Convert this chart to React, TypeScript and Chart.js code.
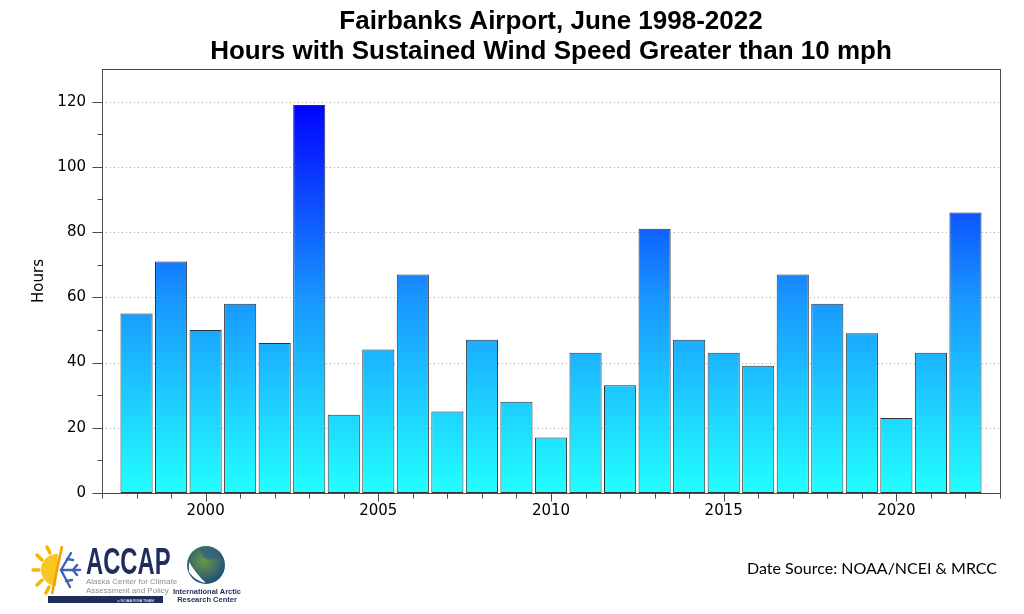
import React, { useEffect, useRef } from "react";
import { Chart, registerables } from "chart.js";

Chart.register(...registerables);

const years = [1998, 1999, 2000, 2001, 2002, 2003, 2004, 2005, 2006, 2007, 2008, 2009, 2010, 2011, 2012, 2013, 2014, 2015, 2016, 2017, 2018, 2019, 2020, 2021, 2022];
const hours = [55, 71, 50, 58, 46, 119, 24, 44, 67, 25, 47, 28, 17, 43, 33, 81, 47, 43, 39, 67, 58, 49, 23, 43, 86];
const xTickValues = [2000, 2005, 2010, 2015, 2020];
const yTickValues = [0, 20, 40, 60, 80, 100, 120];
const titleLines = ["Fairbanks Airport, June 1998-2022", "Hours with Sustained Wind Speed Greater than 10 mph"];
const yAxisTitle = "Hours";
const sourceText = "Date Source: NOAA/NCEI & MRCC";

const X_MIN = 1997;
const X_MAX = 2023;
const Y_MIN = 0;
const Y_MAX = 130;

const decorPlugin = {
  id: "decor",
  beforeDatasetsDraw(chart: any) {
    const { ctx, chartArea, scales } = chart;
    const { left, right } = chartArea;
    const y = scales.y;
    ctx.save();
    ctx.strokeStyle = "#a8a8a8";
    ctx.lineWidth = 1;
    ctx.setLineDash([1, 3]);
    for (const v of yTickValues) {
      if (v <= Y_MIN) continue;
      const py = Math.round(y.getPixelForValue(v)) + 0.5;
      ctx.beginPath();
      ctx.moveTo(left, py);
      ctx.lineTo(right, py);
      ctx.stroke();
    }
    ctx.restore();
  },
  afterDatasetsDraw(chart: any) {
    const { ctx, chartArea, scales } = chart;
    const { left, right, top, bottom } = chartArea;
    const x = scales.x;
    const y = scales.y;
    ctx.save();
    ctx.strokeStyle = "#4a4a4a";
    ctx.lineWidth = 1;
    ctx.setLineDash([]);
    const L = Math.round(left) + 0.5;
    const R = Math.round(right) + 0.5;
    const T = Math.round(top) + 0.5;
    const B = Math.round(bottom) + 0.5;
    ctx.strokeRect(L, T, R - L, B - T);
    for (let v = X_MIN; v <= X_MAX; v++) {
      const px = Math.round(x.getPixelForValue(v)) + 0.5;
      const len = v % 5 === 0 ? 8 : 5;
      ctx.beginPath();
      ctx.moveTo(px, B);
      ctx.lineTo(px, B + len);
      ctx.stroke();
    }
    for (let v = Y_MIN; v <= Y_MAX - 10; v += 10) {
      const py = Math.round(y.getPixelForValue(v)) + 0.5;
      const len = v % 20 === 0 ? 10 : 5;
      ctx.beginPath();
      ctx.moveTo(L, py);
      ctx.lineTo(L - len, py);
      ctx.stroke();
    }
    ctx.restore();
  },
};

function barGradient(context: any) {
  const chart = context.chart;
  const { chartArea, scales } = chart;
  if (!chartArea || !scales.y) return "#1e90ff";
  const y0 = scales.y.getPixelForValue(0);
  const y1 = scales.y.getPixelForValue(120);
  const g = chart.ctx.createLinearGradient(0, y0, 0, y1);
  g.addColorStop(0, "rgb(34,255,255)");
  g.addColorStop(0.5, "rgb(24,150,255)");
  g.addColorStop(1, "rgb(0,0,255)");
  return g;
}

function Logos() {
  return (
    <div style={{ position: "absolute", left: 0, top: 540, width: 260, height: 74 }}>
      <svg width="260" height="74" style={{ position: "absolute", left: 0, top: 0 }}>
        <path d="M 58 14 A 16 16 0 0 0 56 46 Z" fill="#f9c623" />
        <g stroke="#f7b500" strokeWidth="3.5" strokeLinecap="round">
          <line x1="39" y1="30" x2="33" y2="30" />
          <line x1="42" y1="20" x2="37" y2="15" />
          <line x1="42" y1="40" x2="37" y2="45" />
          <line x1="50" y1="13" x2="47" y2="7" />
          <line x1="49" y1="47" x2="46" y2="53" />
        </g>
        <line x1="62" y1="6" x2="52" y2="54" stroke="#f2a100" strokeWidth="2.5" />
        <g stroke="#3c64b4" strokeWidth="2.4" fill="none" strokeLinecap="round">
          <line x1="61" y1="30" x2="80" y2="30" />
          <line x1="61" y1="30" x2="71" y2="13" />
          <line x1="61" y1="30" x2="70" y2="47" />
          <line x1="73" y1="30" x2="77" y2="25" />
          <line x1="73" y1="30" x2="77" y2="35" />
          <line x1="67" y1="19" x2="73" y2="20" />
          <line x1="66" y1="41" x2="72" y2="40" />
        </g>
        <rect x="48" y="56" width="115" height="7" fill="#1f2d5c" />
        <text x="154" y="61.5" fontSize="4" fill="#ffffff" textAnchor="end" fontFamily="Liberation Sans, Arial, sans-serif">a NOAA RISA TEAM</text>
        <defs>
          <radialGradient id="globeGrad" cx="45%" cy="40%" r="60%">
            <stop offset="0%" stopColor="#6a9a44" />
            <stop offset="100%" stopColor="#1f4f7a" />
          </radialGradient>
        </defs>
        <circle cx="206" cy="25" r="19" fill="url(#globeGrad)" />
        <path d="M 189 22 Q 197 35 206 43 Q 195 41 189 32 Z" fill="#ffffff" />
        <path d="M 200 10 Q 212 6 222 16 Q 214 22 204 18 Z" fill="#2a5d86" opacity="0.6" />
      </svg>
      <div style={{ position: "absolute", left: 86, top: 4, fontFamily: "Liberation Sans, Arial, sans-serif", fontWeight: 700, fontSize: 36, color: "#1f2d5c", lineHeight: "36px", transform: "scaleX(0.66)", transformOrigin: "left top", whiteSpace: "nowrap" }}>ACCAP</div>
      <div style={{ position: "absolute", left: 86, top: 37, fontFamily: "Liberation Sans, Arial, sans-serif", fontSize: 8, color: "#8a8f99", lineHeight: "9px", whiteSpace: "nowrap" }}>
        Alaska Center for Climate<br />Assessment and Policy
      </div>
      <div style={{ position: "absolute", left: 170, top: 48, fontFamily: "Liberation Sans, Arial, sans-serif", fontWeight: 700, fontSize: 7.5, color: "#1f2d5c", lineHeight: "8px", textAlign: "center", width: 74, whiteSpace: "nowrap" }}>
        International Arctic<br />Research Center
      </div>
    </div>
  );
}

export default function App() {
  const canvasRef = useRef<HTMLCanvasElement | null>(null);

  useEffect(() => {
    if (!canvasRef.current) return;
    const chart = new Chart(canvasRef.current, {
      type: "bar",
      data: {
        datasets: [
          {
            label: yAxisTitle,
            data: years.map((yr, i) => ({ x: yr, y: hours[i] })),
            backgroundColor: barGradient,
            borderColor: "#333333",
            borderWidth: 1,
            borderSkipped: false,
            barPercentage: 0.93,
            categoryPercentage: 1,
          } as any,
        ],
      },
      options: {
        animation: false,
        responsive: false,
        maintainAspectRatio: false,
        layout: { padding: { left: 0, right: 24, top: 0, bottom: 0 } },
        plugins: {
          legend: { display: false },
          tooltip: { enabled: false },
          title: {
            display: true,
            text: titleLines,
            fullSize: false,
            color: "#000000",
            font: { family: "'Liberation Sans', Arial, sans-serif", size: 26, weight: "bold", lineHeight: 30 / 26 },
            padding: { top: 7, bottom: 2 },
          },
        },
        scales: {
          x: {
            type: "linear",
            min: X_MIN,
            max: X_MAX,
            offset: false,
            grid: { display: false, drawTicks: false },
            border: { display: false },
            afterBuildTicks: (s: any) => {
              s.ticks = xTickValues.map((v) => ({ value: v }));
            },
            afterFit: (s: any) => {
              s.height = 121;
            },
            ticks: {
              color: "#000000",
              padding: 9,
              maxRotation: 0,
              autoSkip: false,
              font: { family: "'DejaVu Sans', sans-serif", size: 15 },
              callback: (v: any) => String(v),
            },
          },
          y: {
            type: "linear",
            min: Y_MIN,
            max: Y_MAX,
            grid: { display: false, drawTicks: false },
            border: { display: false },
            afterBuildTicks: (s: any) => {
              s.ticks = yTickValues.map((v) => ({ value: v }));
            },
            afterFit: (s: any) => {
              s.width = 102;
            },
            ticks: {
              color: "#000000",
              padding: 16,
              autoSkip: false,
              font: { family: "'DejaVu Sans', sans-serif", size: 15 },
              callback: (v: any) => String(v),
            },
            title: {
              display: true,
              text: yAxisTitle,
              color: "#000000",
              font: { family: "'DejaVu Sans', sans-serif", size: 15 },
              padding: { top: 30, bottom: 0 },
            },
          },
        },
      },
      plugins: [decorPlugin],
    });
    return () => chart.destroy();
  }, []);

  return (
    <div style={{ position: "fixed", left: 0, top: 0, width: 1024, height: 614, background: "#ffffff", overflow: "hidden" }}>
      <canvas ref={canvasRef} width={1024} height={614} style={{ position: "absolute", left: 0, top: 0, width: 1024, height: 614 }} />
      <Logos />
      <div style={{ position: "absolute", right: 27, top: 558, fontFamily: "Lato, 'Open Sans', sans-serif", fontSize: 16, color: "#000000", whiteSpace: "nowrap" }}>
        {sourceText}
      </div>
    </div>
  );
}
